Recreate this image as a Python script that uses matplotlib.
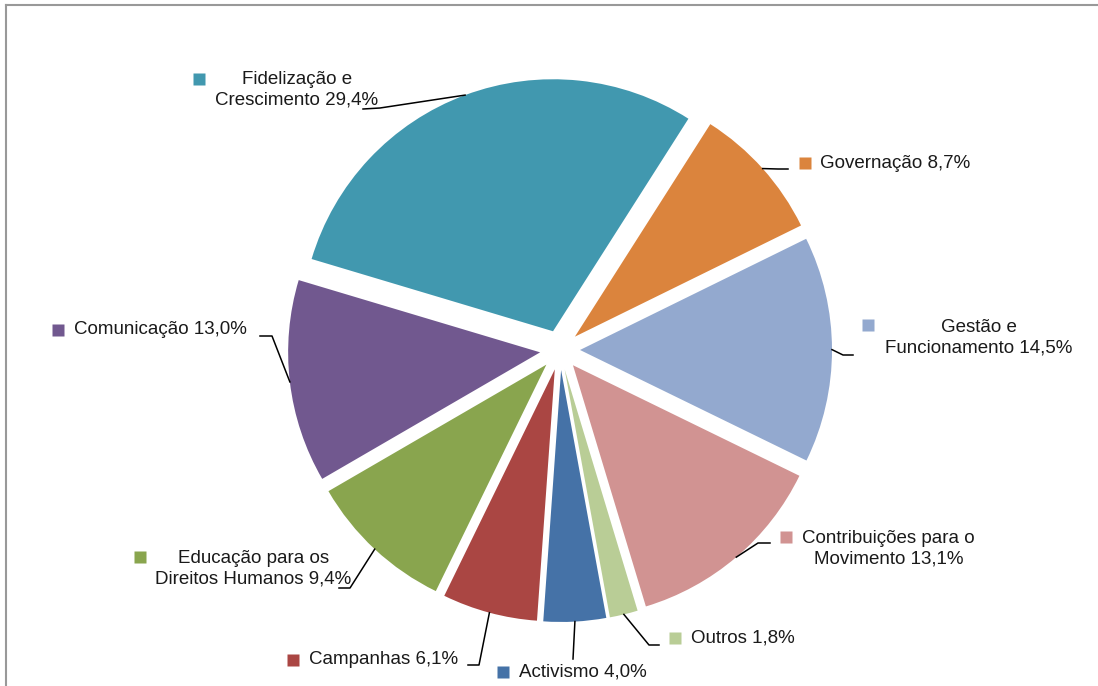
import numpy as np
import matplotlib
matplotlib.use('Agg')
import matplotlib.pyplot as plt
from matplotlib import font_manager

# distribuição das despesas por área
categorias = ['Governação', 'Gestão e\nFuncionamento', 'Contribuições para o\nMovimento',
              'Outros', 'Activismo', 'Campanhas', 'Educação para os\nDireitos Humanos',
              'Comunicação', 'Fidelização e\nCrescimento']
percentagens = [8.7, 14.5, 13.1, 1.8, 4.0, 6.1, 9.4, 13.0, 29.4]
cores = ['#DB843D', '#93A9CF', '#D19392', '#B9CD96', '#4572A7',
         '#AA4643', '#89A54E', '#71588F', '#4198AF']

W, H = 1098, 686

# posição dos rótulos (pixels, y a partir do topo): marcador, início do texto, centro vertical
marcadores = [(805, 163), (868, 325), (786, 537), (675, 638), (503, 672),
              (293, 660), (140, 557), (58, 330), (199, 79)]
texto_pos = [(820, 163), (885, 338), (802, 549), (691, 638), (519, 672),
             (309, 660), (155, 569), (74, 330), (215, 90)]
# cotovelo e fim de cada linha de chamada
cotovelos = [(778, 169), (843, 355), (758, 543), (649, 645), (573, 659),
             (479, 665), (350, 588), (272, 336), (380, 108)]
fins = [(788, 169), (853, 355), (770, 543), (659, 645), (573, 659),
        (468, 665), (339, 588), (260, 336), (363, 109)]

familias = [f for f in ['Liberation Sans Narrow', 'Liberation Sans', 'DejaVu Sans']
            if any(f == x.name for x in font_manager.fontManager.ttflist)]
plt.rcParams['font.family'] = familias


def fy(y):
    return H - y


fig = plt.figure(figsize=(W / 100, H / 100), dpi=100)
ax = fig.add_axes([0, 0, 1, 1])

raio = 252
# explode em unidades de dados (pixels aqui)
wedges, _ = ax.pie(percentagens, colors=cores, startangle=57.5, counterclock=False,
                   radius=raio, center=(560, fy(350)), explode=[20] * len(percentagens),
                   wedgeprops=dict(linewidth=0))
ax.set_xlim(0, W)
ax.set_ylim(0, H)
ax.axis('off')

for i, w in enumerate(wedges):
    ang = np.deg2rad((w.theta1 + w.theta2) / 2)
    ax0 = w.center[0] + w.r * np.cos(ang)
    ay0 = w.center[1] + w.r * np.sin(ang)
    ex, ey = cotovelos[i]
    fx, fy_ = fins[i]
    ax.plot([ax0, ex, fx], [ay0, fy(ey), fy(fy_)], color='black', lw=1.1,
            solid_joinstyle='round', zorder=3)

    mx, my = marcadores[i]
    ax.plot(mx, fy(my), marker='s', ms=8, color=cores[i], mec='none', zorder=4)
    tx, ty = texto_pos[i]
    rotulo = categorias[i] + ' ' + ('%.1f' % percentagens[i]).replace('.', ',') + '%'
    ax.text(tx, fy(ty), rotulo, ha='left', va='center', multialignment='center',
            fontsize=13.5, color='#1a1a1a', linespacing=1.3, zorder=4)

# moldura do gráfico (topo e esquerda)
fig.add_artist(plt.Line2D([6 / W, 1], [1 - 5 / H, 1 - 5 / H], color='#999999', lw=1.5,
                          transform=fig.transFigure))
fig.add_artist(plt.Line2D([6 / W, 6 / W], [0, 1 - 5 / H], color='#999999', lw=1.5,
                          transform=fig.transFigure))

fig.savefig('out.png', dpi=100)
